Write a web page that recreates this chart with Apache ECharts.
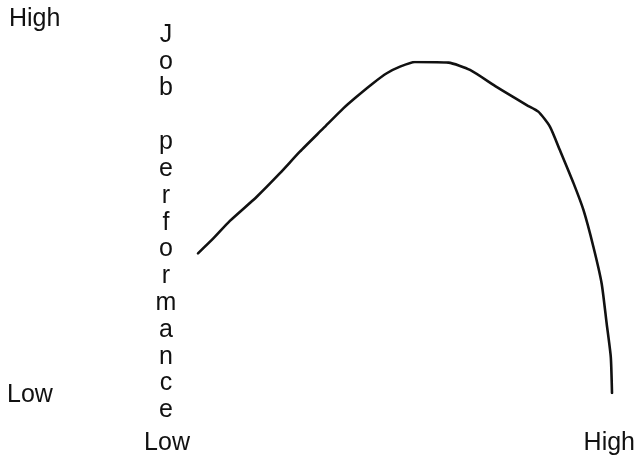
<!DOCTYPE html>
<html>
<head>
<meta charset="utf-8">
<script src="https://cdn.jsdelivr.net/npm/echarts@6/dist/echarts.min.js"></script>
<style>
  html, body { margin: 0; padding: 0; background: #ffffff; }
  #chart { width: 636px; height: 458px; }
</style>
</head>
<body>
<div id="chart"></div>
<script>
// Arousal (x, 0..100) vs job performance (y, 0..100)
const arousal = [0, 3.7, 7.7, 14.2, 19.8, 24.6, 30.3, 35.1, 38.3, 42.3, 45.6, 48.8, 52.4, 60.5, 65.7, 72.2, 79.4, 82.2, 85.0, 87.4, 90.7, 93.1, 95.5, 97.5, 98.7, 99.7, 100];
const performance = [42.2, 46.7, 52.0, 59.3, 66.4, 72.9, 80.0, 86.0, 89.5, 93.6, 96.6, 98.6, 100, 99.8, 97.6, 92.4, 87.0, 85.0, 80.5, 73.4, 63.4, 55.3, 44.2, 33.1, 21.1, 11.0, 0];
const yTickLabels = ['Low', 'High'];
const xTickLabels = ['Low', 'High'];
const yAxisTitleWords = ['Job', 'performance'];

const FONT = '25px "Liberation Sans", Arial, sans-serif';
const data = arousal.map((x, i) => [x, performance[i]]);
const stack = w => w.split('').join('\n');

const chart = echarts.init(document.getElementById('chart'), null, { renderer: 'canvas' });
chart.setOption({
  backgroundColor: '#ffffff',
  animation: false,
  grid: { left: 198, right: 24, top: 62, bottom: 65 },
  xAxis: { type: 'value', min: 0, max: 100, show: false },
  yAxis: { type: 'value', min: 0, max: 100, show: false },
  series: [{
    type: 'line',
    data: data,
    showSymbol: false,
    smooth: 0.2,
    lineStyle: { color: '#111111', width: 2.6, cap: 'round', join: 'round' }
  }],
  graphic: [
    { type: 'text', style: { text: yTickLabels[1], x: 9, y: 19, font: FONT, fill: '#111', textAlign: 'left', textVerticalAlign: 'middle' } },
    { type: 'text', style: { text: yTickLabels[0], x: 7, y: 395, font: FONT, fill: '#111', textAlign: 'left', textVerticalAlign: 'middle' } },
    { type: 'text', style: { text: xTickLabels[0], x: 167, y: 443, font: FONT, fill: '#111', textAlign: 'center', textVerticalAlign: 'middle' } },
    { type: 'text', style: { text: xTickLabels[1], x: 635, y: 443, font: FONT, fill: '#111', textAlign: 'right', textVerticalAlign: 'middle' } },
    { type: 'text', style: { text: stack(yAxisTitleWords[0]), x: 166, y: 22, font: FONT, lineHeight: 26.5, fill: '#111', textAlign: 'center', textVerticalAlign: 'top' } },
    { type: 'text', style: { text: stack(yAxisTitleWords[1]), x: 166, y: 129, font: FONT, lineHeight: 26.8, fill: '#111', textAlign: 'center', textVerticalAlign: 'top' } }
  ]
});
</script>
</body>
</html>
